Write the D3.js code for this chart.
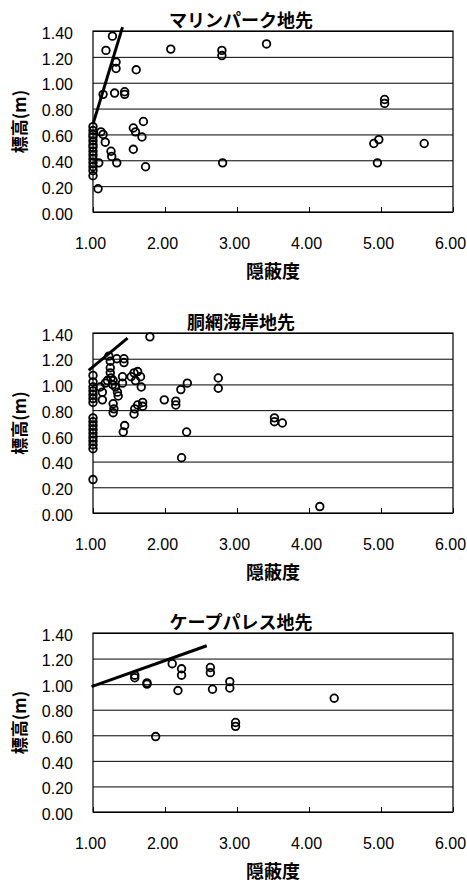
<!DOCTYPE html>
<html>
<head>
<meta charset="utf-8">
<script src="https://cdn.jsdelivr.net/npm/d3@7"></script>
<style>
  body { margin: 0; background: #fff; }
  text { font-family: "Liberation Sans", Arial, "Noto Sans CJK JP", sans-serif; fill: #000; }
  .jp { font-family: "Noto Sans CJK JP", sans-serif; font-weight: bold; }
</style>
</head>
<body>
<div id="chart"></div>
<script>
// ---- data ----
const xTicks = [1, 2, 3, 4, 5, 6];
const yTicks = [0, 0.2, 0.4, 0.6, 0.8, 1.0, 1.2, 1.4];
const titles = ['マリンパーク地先', '胴網海岸地先', 'ケープパレス地先'];
const xLabel = '隠蔽度';
const yLabel = '標高(m)';

// panel 1: マリンパーク地先
const marineX = [1.0, 1.0, 1.0, 1.0, 1.0, 1.0, 1.0, 1.0, 1.0, 1.0, 1.0, 1.0, 1.0, 1.0,
  1.08, 1.07, 1.11, 1.14, 1.17, 1.14, 1.18, 1.27, 1.25, 1.26, 1.30, 1.32, 1.32, 1.33,
  1.44, 1.44, 1.56, 1.59, 1.56, 1.60, 1.68, 1.70, 1.73, 2.08, 2.79, 2.79, 2.80, 3.41,
  4.90, 4.97, 4.95, 5.05, 5.05, 5.60];
const marineY = [0.66, 0.63, 0.60, 0.58, 0.55, 0.52, 0.50, 0.47, 0.44, 0.41, 0.38, 0.35, 0.32, 0.28,
  0.38, 0.18, 0.62, 0.60, 0.54, 0.91, 1.25, 1.36, 0.47, 0.43, 0.92, 1.16, 1.11, 0.38,
  0.93, 0.91, 0.65, 0.62, 0.485, 1.10, 0.58, 0.70, 0.35, 1.26, 1.25, 1.21, 0.38, 1.30,
  0.53, 0.56, 0.38, 0.87, 0.84, 0.53];

// panel 2: 胴網海岸地先
const doamiX = [1.0, 1.0, 1.0, 1.0, 1.0, 1.0, 1.0, 1.0, 1.0, 1.0, 1.0, 1.0, 1.0, 1.0, 1.0, 1.0, 1.0,
  1.10, 1.13, 1.13, 1.17, 1.20, 1.22, 1.24, 1.24, 1.24, 1.25, 1.27, 1.28, 1.31, 1.34, 1.35,
  1.28, 1.29, 1.28, 1.33, 1.43, 1.43, 1.41, 1.41, 1.44, 1.42, 1.53, 1.57, 1.62, 1.59, 1.67, 1.66,
  1.58, 1.62, 1.69, 1.69, 1.57, 1.79, 1.99, 2.15, 2.15, 2.22, 2.31, 2.30, 2.23, 2.74, 2.74,
  3.52, 3.52, 3.63, 4.15];
const doamiY = [1.07, 1.02, 0.98, 0.95, 0.92, 0.89, 0.86, 0.74, 0.71, 0.68, 0.65, 0.62, 0.59, 0.56, 0.53, 0.50, 0.26,
  0.98, 0.94, 0.88, 1.01, 1.03, 1.22, 1.18, 1.13, 1.09, 1.05, 1.00, 1.03, 0.98, 0.94, 0.91,
  0.85, 0.81, 0.78, 1.20, 1.20, 1.17, 1.06, 1.01, 0.68, 0.63, 1.06, 1.09, 1.10, 1.03, 0.98, 1.06,
  0.81, 0.84, 0.86, 0.83, 0.77, 1.37, 0.88, 0.87, 0.84, 0.96, 1.01, 0.63, 0.43, 1.05, 0.97,
  0.74, 0.71, 0.70, 0.05];

// panel 3: ケープパレス地先
const capeX = [1.58, 1.58, 1.75, 1.75, 1.87, 2.10, 2.23, 2.23, 2.18, 2.63, 2.63, 2.66, 2.90, 2.90, 2.98, 2.98, 4.35];
const capeY = [1.07, 1.05, 1.01, 1.00, 0.59, 1.16, 1.12, 1.07, 0.95, 1.13, 1.09, 0.96, 1.02, 0.97, 0.70, 0.67, 0.89];

// hand-drawn trend lines [x0, y0, x1, y1]
const marineLine = [1.0, 0.68, 1.41, 1.43];
const doamiLine = [0.94, 1.11, 1.48, 1.36];
const capeLine = [0.98, 0.98, 2.58, 1.30];

const panels = [
  { xs: marineX, ys: marineY, line: marineLine, top: 31, bottom: 212 },
  { xs: doamiX, ys: doamiY, line: doamiLine, top: 333, bottom: 513 },
  { xs: capeX, ys: capeY, line: capeLine, top: 633, bottom: 812 }
];

// ---- drawing ----
const W = 467, H = 885;
const left = 93, right = 453;

const svg = d3.select('#chart').append('svg')
  .attr('width', W).attr('height', H);

panels.forEach((p, i) => {
  const x = d3.scaleLinear().domain([1, 6]).range([left, right]);
  const y = d3.scaleLinear().domain([0, 1.4]).range([p.bottom, p.top]);
  const g = svg.append('g');

  // title
  g.append('text').attr('class', 'jp')
    .attr('x', 241).attr('y', p.top - 4)
    .attr('text-anchor', 'middle').attr('font-size', '18px')
    .text(titles[i]);

  // gridlines + y tick labels
  const yAxis = g.append('g')
    .attr('transform', `translate(${left},0)`)
    .call(d3.axisLeft(y).tickValues(yTicks).tickSize(-(right - left)).tickFormat(d3.format('.2f')));
  yAxis.select('.domain').remove();
  yAxis.selectAll('line').attr('stroke', '#000').attr('stroke-width', 1);
  yAxis.selectAll('text').attr('x', -20).attr('dy', '0.45em')
    .attr('font-size', '16px').attr('fill', '#000');

  // x axis with inner ticks
  const xAxis = g.append('g')
    .attr('transform', `translate(0,${p.bottom})`)
    .call(d3.axisBottom(x).tickValues(xTicks).tickSize(-5).tickFormat(d3.format('.2f')));
  xAxis.select('.domain').remove();
  xAxis.selectAll('line').attr('stroke', '#000');
  xAxis.selectAll('text').attr('y', 26).attr('dy', '0.71em').attr('x', -3)
    .attr('font-size', '16px').attr('fill', '#000');

  // frame
  g.append('rect')
    .attr('x', left).attr('y', p.top)
    .attr('width', right - left).attr('height', p.bottom - p.top)
    .attr('fill', 'none').attr('stroke', '#000').attr('stroke-width', 1.2);

  // axis titles
  g.append('text').attr('class', 'jp')
    .attr('x', 273).attr('y', p.bottom + 66)
    .attr('text-anchor', 'middle').attr('font-size', '18px')
    .text(xLabel);
  g.append('text').attr('class', 'jp')
    .attr('transform', `translate(26,${(p.top + p.bottom) / 2}) rotate(-90)`)
    .attr('text-anchor', 'middle').attr('font-size', '17px')
    .text(yLabel);

  // trend line
  const [lx0, ly0, lx1, ly1] = p.line;
  g.append('line')
    .attr('x1', x(lx0)).attr('y1', y(ly0))
    .attr('x2', x(lx1)).attr('y2', y(ly1))
    .attr('stroke', '#000').attr('stroke-width', 3);

  // points
  g.selectAll('circle.pt').data(p.xs.map((v, k) => [v, p.ys[k]])).enter()
    .append('circle').attr('class', 'pt')
    .attr('cx', d => x(d[0])).attr('cy', d => y(d[1]))
    .attr('r', 3.8)
    .attr('fill', 'none').attr('stroke', '#000').attr('stroke-width', 1.8);
});
</script>
</body>
</html>
